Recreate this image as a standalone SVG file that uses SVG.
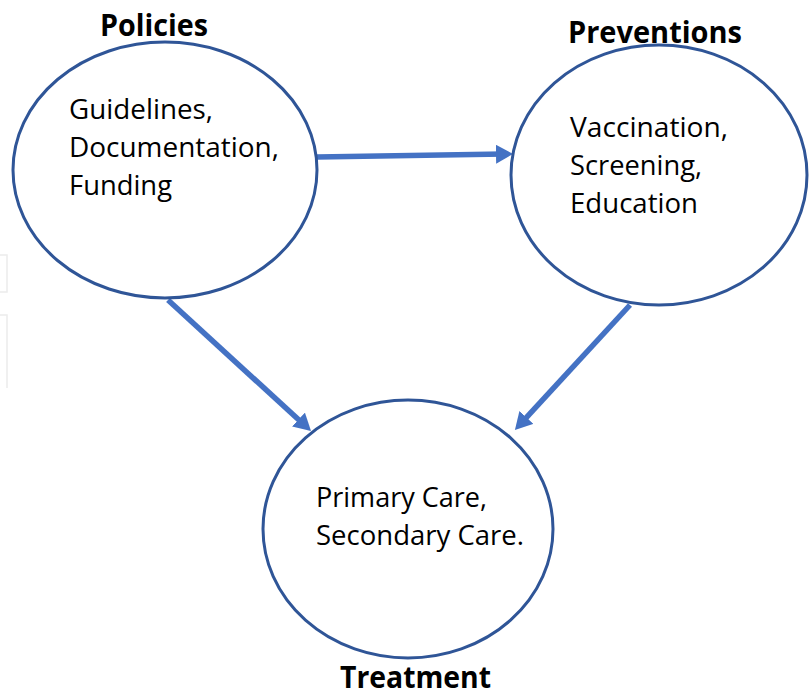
<svg xmlns="http://www.w3.org/2000/svg" width="809" height="696" viewBox="0 0 809 696">
  <style>
    .node { fill: #ffffff; stroke: #2f5597; stroke-width: 3; }
    .title { font-family: "Open Sans", "Liberation Sans", sans-serif; font-weight: bold; font-size: 30px; fill: #000000; }
    .body { font-family: "Open Sans", "Liberation Sans", sans-serif; font-size: 28px; fill: #000000; }
    .edge { stroke: #4472c4; stroke-width: 5.5; fill: none; marker-end: url(#head); }
    .ghost { stroke: #ececec; stroke-width: 1.5; fill: none; }
  </style>
  <defs>
    <marker id="head" viewBox="0 0 17 19" refX="8" refY="9.5" markerWidth="17" markerHeight="19" markerUnits="userSpaceOnUse" orient="auto">
      <path d="M0,0 L17,9.5 L0,19 Z" fill="#4472c4"/>
    </marker>
  </defs>
  <rect width="809" height="696" fill="#ffffff"/>

  <!-- faint frame edges along the left border -->
  <path class="ghost" d="M0,255 H7 V292 H0 M0,315 H7 V388"/>

  <g id="connectors">
    <line class="edge" x1="317" y1="157" x2="504" y2="154.1"/>
    <line class="edge" x1="168" y1="300" x2="304.4" y2="425"/>
    <line class="edge" x1="630" y1="305" x2="521" y2="423.4"/>
  </g>

  <g id="policies">
    <ellipse class="node" cx="165" cy="170" rx="152" ry="128"/>
    <text class="title" x="100" y="36" textLength="108" lengthAdjust="spacingAndGlyphs">Policies</text>
    <text class="body" x="69" y="119" textLength="144" lengthAdjust="spacingAndGlyphs">Guidelines,</text>
    <text class="body" x="69" y="157" textLength="210" lengthAdjust="spacingAndGlyphs">Documentation,</text>
    <text class="body" x="69" y="195" textLength="103" lengthAdjust="spacingAndGlyphs">Funding</text>
  </g>

  <g id="preventions">
    <ellipse class="node" cx="659" cy="175" rx="148" ry="130"/>
    <text class="title" x="568" y="43" textLength="174" lengthAdjust="spacingAndGlyphs">Preventions</text>
    <text class="body" x="570" y="137" textLength="158" lengthAdjust="spacingAndGlyphs">Vaccination,</text>
    <text class="body" x="570" y="175" textLength="132" lengthAdjust="spacingAndGlyphs">Screening,</text>
    <text class="body" x="570" y="213" textLength="128" lengthAdjust="spacingAndGlyphs">Education</text>
  </g>

  <g id="treatment">
    <ellipse class="node" cx="408" cy="529" rx="145" ry="129"/>
    <text class="body" x="316" y="507" textLength="171" lengthAdjust="spacingAndGlyphs">Primary Care,</text>
    <text class="body" x="316" y="545" textLength="208" lengthAdjust="spacingAndGlyphs">Secondary Care.</text>
    <text class="title" x="340" y="688" textLength="151" lengthAdjust="spacingAndGlyphs">Treatment</text>
  </g>
</svg>
